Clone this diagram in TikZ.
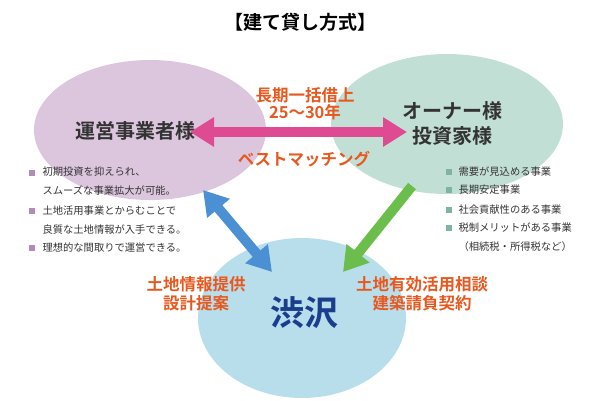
\documentclass[tikz,border=0pt]{standalone}
\usepackage{fontspec}
\setmainfont{Noto Sans CJK JP}[BoldFont={Noto Sans CJK JP Bold}]
\usetikzlibrary{arrows.meta}
\definecolor{pur}{HTML}{DCC6DE}
\definecolor{teal}{HTML}{C2DFD6}
\definecolor{sky}{HTML}{B8DEEC}
\definecolor{org}{HTML}{E8581E}
\definecolor{mag}{HTML}{DE4B93}
\definecolor{blu}{HTML}{4A90D2}
\definecolor{grn}{HTML}{6BBE4C}
\definecolor{navy}{HTML}{1B3D8E}
\definecolor{txt}{HTML}{333333}
\definecolor{bpur}{HTML}{B48AB8}
\definecolor{bgrn}{HTML}{7FB3A5}
\begin{document}
\begin{tikzpicture}[x=1pt,y=-1pt,
  big/.style={font=\fontsize{20}{24}\selectfont\bfseries,text=txt,align=center},
  lab/.style={font=\fontsize{16.5}{20}\selectfont\bfseries,text=org,align=center},
  bul/.style={font=\fontsize{10.3}{18.5}\selectfont,text=txt,anchor=west,align=left},
  arr/.style={line width=10pt,-{Triangle[length=24pt,width=28pt]}},
  darr/.style={line width=10pt,{Triangle[length=24pt,width=28pt]}-{Triangle[length=24pt,width=28pt]}}]
\useasboundingbox (0,0) rectangle (600,400);
\fill[pur] (150,130) ellipse [x radius=116,y radius=70];
\fill[teal] (447,124) ellipse [x radius=116,y radius=70];
\fill[sky] (302,318) ellipse [x radius=104,y radius=80];
\node[font=\fontsize{19}{22}\selectfont\bfseries,text=black] (title) at (300,22) {【建て貸し方式】};
\node[big] (op) at (135,131) {運営事業者様};
\node[big] (ow) at (452,123) {オーナー様\\[1pt]投資家様};
\coordinate (pl) at (190,132);
\coordinate (pr) at (407,132);
\draw[darr,mag] (pl) -- (pr);
\node[lab] (l1) at (305,104) {長期一括借上\\[-3pt]25～30年};
\node[lab] (l2) at (304,159) {ベストマッチング};
\node[font=\fontsize{34}{38}\selectfont\bfseries,text=navy] (logo) at (304,313) {渋沢};
\coordinate (b1) at (203,190);
\coordinate (b2) at (272,272);
\draw[darr,blu] (b1) -- (b2);
\coordinate (g1) at (412,186);
\coordinate (g2) at (343,272);
\draw[arr,grn] (g1) -- (g2);
\node[lab] (ll) at (196,294) {土地情報提供\\[-1pt]設計提案};
\node[lab] (lr) at (422,294) {土地有効活用相談\\[-1pt]建築請負契約};
\foreach \y in {173,211,248} \fill[bpur] (29,\y-3) rectangle ++(6,6);
\node[bul] (a1) at (39,181) {初期投資を抑えられ、\\スムーズな事業拡大が可能。};
\node[bul] (a2) at (39,220) {土地活用事業とからむことで\\良質な土地情報が入手できる。};
\node[bul] (a3) at (39,248) {理想的な間取りで運営できる。};
\foreach \y in {172,190,210,228} \fill[bgrn] (446,\y-3) rectangle ++(6,6);
\node[bul] (c1) at (455,172) {需要が見込める事業};
\node[bul] (c2) at (455,190) {長期安定事業};
\node[bul] (c3) at (455,210) {社会貢献性のある事業};
\node[bul] (c4) at (455,237) {税制メリットがある事業\\（相続税・所得税など）};
\end{tikzpicture}
\end{document}
